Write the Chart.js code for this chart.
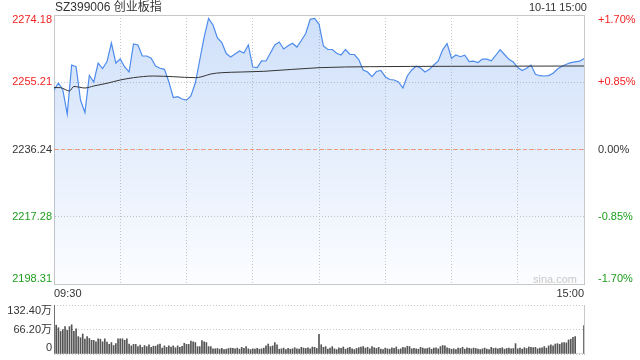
<!DOCTYPE html>
<html>
<head>
<meta charset="utf-8">
<script src="https://cdn.jsdelivr.net/npm/chart.js@4.4.0/dist/chart.umd.min.js"></script>
<style>
  html, body { margin: 0; padding: 0; background: #fff; }
  #wrap { position: relative; width: 640px; height: 360px; overflow: hidden;
          font-family: "Liberation Sans", "Noto Sans CJK SC", Arial, sans-serif; }
  #main { position: absolute; left: 0; top: 0; }
  #vol  { position: absolute; left: 0; top: 300px; }
  .txt  { position: absolute; white-space: nowrap; color: #333; }
  #title { left: 55px; top: 0; font-size: 12px; line-height: 15px; }
  #stamp { left: 529px; top: 1px; font-size: 11px; line-height: 13px; }
  #mark  { left: 533px; top: 273px; font-size: 11px; line-height: 12px; color: #c8c8c8; }
</style>
</head>
<body>
<div id="wrap">
  <canvas id="main" width="640" height="300"></canvas>
  <canvas id="vol" width="640" height="60"></canvas>
  <div id="title" class="txt">SZ399006 创业板指</div>
  <div id="stamp" class="txt">10-11 15:00</div>
  <div id="mark" class="txt">sina.com</div>
</div>
<script>
// ---- données ----
const preClose = 2236.24;
const priceTicks = [2198.31, 2217.28, 2236.24, 2255.21, 2274.18];
const pctTicks = [-1.70, -0.85, 0, 0.85, 1.70];
const timeTicks = [0, 30, 60, 90, 120, 150, 180, 210, 240];   // minutes de séance
const timeLabelAt = [0, 240];
const timeLabelText = ["09:30", "15:00"];
const volTicks = [0, 66.20, 132.40];                           // en 万

// prix, un point toutes les 2 minutes (0 → 240)
const price = [
  2253.03, 2255.00, 2253.03, 2246.26, 2260.08, 2259.60, 2250.21, 2246.68, 2257.12, 2255.28,
  2260.64, 2259.09, 2261.06, 2266.28, 2260.64, 2261.77, 2259.51, 2258.10, 2266.00, 2265.72,
  2262.62, 2262.62, 2261.97, 2259.80, 2259.15, 2258.86, 2255.37, 2250.91, 2251.14, 2250.49,
  2250.15, 2251.33, 2255.00, 2261.49, 2267.97, 2273.20, 2271.36, 2267.69, 2266.42, 2263.32,
  2262.33, 2263.18, 2264.03, 2263.46, 2265.72, 2259.51, 2259.37, 2261.26, 2261.21, 2263.46,
  2265.72, 2266.56, 2264.59, 2265.52, 2266.20, 2265.15, 2266.99, 2268.96, 2272.97, 2273.22,
  2271.64, 2265.44, 2264.45, 2264.45, 2263.38, 2262.90, 2264.45, 2263.04, 2263.04, 2261.63,
  2258.67, 2258.10, 2256.78, 2258.24, 2258.53, 2256.78, 2255.99, 2255.85, 2255.28, 2253.59,
  2256.97, 2258.67, 2259.74, 2259.23, 2258.10, 2258.86, 2260.08, 2261.21, 2264.36, 2266.09,
  2261.97, 2262.90, 2262.42, 2262.84, 2261.01, 2261.15, 2260.78, 2261.77, 2261.74, 2261.26,
  2262.76, 2264.39, 2263.04, 2261.66, 2260.92, 2259.37, 2258.53, 2259.17, 2260.05, 2257.45,
  2257.06, 2256.97, 2257.09, 2257.74, 2258.95, 2259.71, 2260.30, 2260.73, 2260.98, 2261.15,
  2261.91
];

// prix moyen (ligne noire)
const avgMinute = [0, 3, 7, 9, 14, 18, 24, 30, 36, 45, 54, 64, 67, 71, 76, 85, 95, 120, 143, 180, 240];
const avgPrice  = [2253.73, 2253.68, 2252.74, 2254.02, 2253.59, 2254.16, 2254.92, 2255.85, 2256.50,
                   2256.97, 2256.78, 2256.50, 2256.78, 2257.54, 2257.91, 2258.10, 2258.30, 2259.32,
                   2259.60, 2259.71, 2259.80];

// volume par minute, en 万
const volume = [
  132, 78, 71, 61, 66, 74, 64, 74, 79, 61, 68,
  47, 44, 54, 40, 47, 42, 37, 37, 33, 41,
  40, 33, 41, 32, 26, 31, 23, 28, 41, 41,
  41, 37, 41, 27, 22, 26, 26, 20, 24, 18,
  23, 20, 25, 18, 21, 21, 25, 27, 16, 22,
  18, 22, 19, 22, 17, 22, 18, 21, 29, 26,
  26, 35, 33, 31, 20, 20, 36, 33, 31, 20,
  20, 14, 14, 15, 13, 15, 12, 13, 15, 16,
  15, 14, 16, 13, 18, 15, 20, 14, 12, 14,
  13, 15, 13, 14, 16, 22, 27, 20, 22, 31,
  25, 13, 14, 16, 12, 15, 13, 14, 17, 14,
  13, 18, 16, 15, 17, 14, 19, 18, 15, 53,
  25, 18, 20, 13, 16, 20, 14, 12, 17, 15,
  19, 13, 16, 18, 14, 12, 15, 17, 19, 20,
  16, 18, 14, 20, 17, 15, 18, 13, 12, 16,
  14, 13, 17, 15, 19, 12, 14, 18, 17, 21,
  20, 14, 15, 14, 13, 18, 16, 14, 15, 17,
  13, 16, 17, 14, 20, 23, 22, 17, 15, 13,
  14, 12, 16, 15, 18, 13, 17, 15, 14, 16,
  15, 13, 12, 14, 16, 13, 12, 18, 15, 16,
  14, 15, 17, 13, 15, 16, 14, 15, 28, 14,
  16, 13, 17, 15, 19, 18, 17, 18, 14, 16,
  17, 20, 16, 22, 25, 22, 27, 28, 26, 30,
  31, 30, 38, 40, 45, 47, 0, 0, 0, 77
];

// ---- styles ----
const RED = "#f22222";
const GREEN = "#1c9e1c";
const INK = "#333";
const GRID = "#c8c8c8";
const BLUE = "#4d8bec";

Chart.defaults.font.family = '"Liberation Sans", "Noto Sans CJK SC", Arial, sans-serif';
Chart.defaults.font.size = 11;
Chart.defaults.color = INK;

function upDownColor(v, ref) {
  if (Math.abs(v - ref) < 1e-6) return INK;
  return v > ref ? RED : GREEN;
}

// étiquettes des extrémités décalées vers l'intérieur
function edgeLabel(text, index, count) {
  if (index === 0) return [text, ""];
  if (index === count - 1) return ["", text];
  return text;
}

function fillGradient(ctx) {
  const area = ctx.chart.chartArea;
  if (!area) return "rgba(77,139,236,0.15)";
  const g = ctx.chart.ctx.createLinearGradient(0, area.top, 0, area.bottom);
  g.addColorStop(0, "rgba(77,139,236,0.27)");
  g.addColorStop(1, "rgba(77,139,236,0.02)");
  return g;
}

const setTicks = arr => scale => { scale.ticks = arr.map(v => ({ value: v })); };
// largeur fixe, sans la marge que Chart.js réserve aux étiquettes
const fixWidth = w => scale => { scale.width = w; scale.paddingTop = 0; scale.paddingBottom = 0; };

// ---- graphe des prix ----
new Chart(document.getElementById("main"), {
  type: "line",
  data: {
    datasets: [
      {
        label: "均价",
        data: avgMinute.map((m, i) => ({ x: m, y: avgPrice[i] })),
        borderColor: INK,
        borderWidth: 1,
        pointRadius: 0,
        cubicInterpolationMode: "monotone",
        fill: false,
        order: 0
      },
      {
        label: "昨收",
        data: [{ x: 0, y: preClose }, { x: 240, y: preClose }],
        borderColor: "#f09878",
        borderWidth: 1,
        borderDash: [4, 3],
        pointRadius: 0,
        fill: false,
        order: 1
      },
      {
        label: "价格",
        data: price.map((v, i) => ({ x: i * 2, y: v })),
        borderColor: BLUE,
        borderWidth: 1.2,
        pointRadius: 0,
        tension: 0,
        fill: "start",
        backgroundColor: fillGradient,
        order: 2
      }
    ]
  },
  options: {
    responsive: false,
    animation: false,
    events: [],
    layout: { padding: { top: 15 } },
    plugins: { legend: { display: false }, tooltip: { enabled: false } },
    scales: {
      x: {
        type: "linear", position: "bottom", min: 0, max: 240,
        afterBuildTicks: setTicks(timeTicks),
        afterFit: s => { s.height = 16; },
        grid: { color: GRID, drawTicks: false },
        border: { color: GRID, dash: [1, 2] },
        ticks: {
          autoSkip: false, maxRotation: 0, align: "inner", padding: 3, color: INK,
          callback: v => {
            const k = timeLabelAt.indexOf(v);
            return k >= 0 ? timeLabelText[k] : "";
          }
        }
      },
      xTop: {
        type: "linear", position: "top", min: 0, max: 240,
        afterFit: s => { s.height = 0; },
        grid: { display: false },
        border: { color: GRID },
        ticks: { display: false }
      },
      y: {
        position: "left", min: priceTicks[0], max: priceTicks[priceTicks.length - 1],
        afterBuildTicks: setTicks(priceTicks),
        afterFit: fixWidth(54),
        grid: { color: GRID, drawTicks: false },
        border: { color: GRID, dash: [1, 2] },
        ticks: {
          autoSkip: false,
          padding: 2,
          font: { size: 11, lineHeight: 0.9 },
          color: c => upDownColor(c.tick.value, preClose),
          callback: (v, i, t) => edgeLabel(v.toFixed(2), i, t.length)
        }
      },
      y1: {
        position: "right", min: pctTicks[0], max: pctTicks[pctTicks.length - 1],
        afterBuildTicks: setTicks(pctTicks),
        afterFit: fixWidth(56),
        grid: { display: false },
        border: { color: GRID },
        ticks: {
          autoSkip: false,
          padding: 6,
          font: { size: 11, lineHeight: 0.9 },
          color: c => upDownColor(c.tick.value, 0),
          callback: (v, i, t) => edgeLabel((v > 0 ? "+" : "") + v.toFixed(2) + "%", i, t.length)
        }
      }
    }
  }
});

// ---- graphe des volumes ----
new Chart(document.getElementById("vol"), {
  type: "bar",
  data: {
    datasets: [{
      label: "成交量",
      data: volume.map((v, i) => ({ x: i, y: v })),
      backgroundColor: "#555",
      barThickness: 1
    }]
  },
  options: {
    responsive: false,
    animation: false,
    events: [],
    layout: { padding: { top: 5, bottom: 6 } },
    plugins: { legend: { display: false }, tooltip: { enabled: false } },
    scales: {
      x: { type: "linear", min: 0, max: 240, offset: false, display: false },
      y: {
        position: "left", min: 0, max: volTicks[volTicks.length - 1],
        afterBuildTicks: setTicks(volTicks),
        afterFit: fixWidth(54),
        grid: { color: GRID, drawTicks: false },
        border: { display: false, dash: [1, 2] },
        ticks: {
          autoSkip: false,
          padding: 2,
          font: { size: 11, lineHeight: 1.1 },
          color: INK,
          callback: (v, i, t) => edgeLabel(v === 0 ? "0" : v.toFixed(2) + "万", i, t.length)
        }
      },
      y1: {
        position: "right",
        afterFit: fixWidth(56),
        grid: { display: false },
        border: { color: GRID },
        ticks: { display: false }
      }
    }
  }
});
</script>
</body>
</html>
